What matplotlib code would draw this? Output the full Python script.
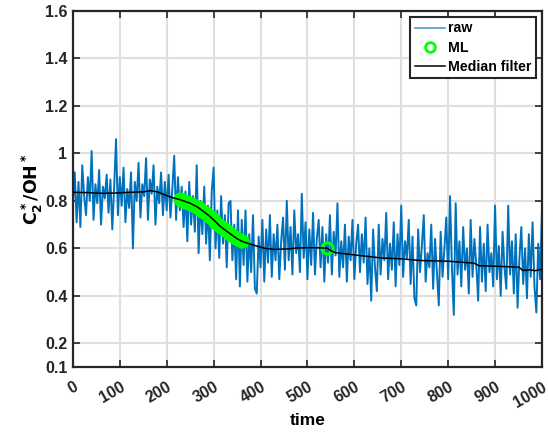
import numpy as np
import matplotlib.pyplot as plt
from matplotlib.lines import Line2D

plt.rcParams.update({
    'font.family': 'Liberation Sans',
    'font.weight': 'bold',
    'font.size': 11.5,
    'axes.labelweight': 'bold',
})

# raw signal, sampled every 4 time units (0..1000)
raw_t = np.arange(0, 1001, 4)
raw_v = [
    0.78, 0.92, 0.71, 0.88, 0.69, 0.95, 0.82, 0.74, 0.90, 0.80,
    1.01, 0.72, 0.87, 0.79, 0.93, 0.70, 0.86, 0.81, 0.91, 0.75,
    0.89, 0.68, 0.86, 1.06, 0.74, 0.90, 0.78, 0.94, 0.71, 0.85,
    0.77, 0.92, 0.60, 0.88, 0.80, 0.96, 0.73, 0.87, 0.82, 0.98,
    0.72, 0.89, 0.83, 0.95, 0.70, 0.86, 0.79, 0.92, 0.74, 0.88,
    0.76, 0.91, 0.73, 0.85, 0.99, 0.72, 0.90, 0.76, 0.86, 0.69,
    0.84, 0.63, 0.88, 0.70, 0.82, 0.67, 0.95, 0.58, 0.80, 0.66,
    0.86, 0.62, 0.78, 0.55, 0.84, 0.94, 0.60, 0.76, 0.56, 0.82,
    0.62, 0.74, 0.52, 0.79, 0.80, 0.55, 0.70, 0.47, 0.76, 0.44,
    0.72, 0.53, 0.76, 0.46, 0.66, 0.50, 0.74, 0.43, 0.41, 0.65,
    0.52, 0.72, 0.46, 0.68, 0.54, 0.74, 0.48, 0.66, 0.55, 0.70,
    0.47, 0.63, 0.73, 0.51, 0.80, 0.55, 0.69, 0.49, 0.76, 0.58,
    0.66, 0.50, 0.83, 0.56, 0.71, 0.47, 0.68, 0.53, 0.75, 0.49,
    0.64, 0.72, 0.52, 0.69, 0.46, 0.66, 0.54, 0.74, 0.49, 0.67,
    0.57, 0.79, 0.48, 0.63, 0.52, 0.70, 0.46, 0.65, 0.55, 0.72,
    0.47, 0.62, 0.70, 0.50, 0.66, 0.54, 0.73, 0.45, 0.60, 0.38,
    0.68, 0.52, 0.42, 0.70, 0.49, 0.64, 0.55, 0.75, 0.47, 0.62,
    0.51, 0.71, 0.44, 0.66, 0.53, 0.78, 0.48, 0.63, 0.56, 0.72,
    0.45, 0.65, 0.39, 0.36, 0.68, 0.50, 0.61, 0.74, 0.46, 0.58,
    0.52, 0.70, 0.43, 0.64, 0.50, 0.36, 0.67, 0.48, 0.60, 0.73,
    0.47, 0.82, 0.52, 0.32, 0.79, 0.49, 0.63, 0.44, 0.69, 0.51,
    0.60, 0.41, 0.72, 0.48, 0.64, 0.53, 0.38, 0.69, 0.46, 0.62,
    0.42, 0.70, 0.50, 0.58, 0.44, 0.78, 0.47, 0.61, 0.40, 0.67,
    0.52, 0.43, 0.78, 0.49, 0.63, 0.41, 0.66, 0.35, 0.56, 0.69,
    0.45, 0.60, 0.39, 0.66, 0.48, 0.71, 0.44, 0.33, 0.62, 0.47,
    0.76,
]

# median filter output (knots)
med_t = [0, 30, 60, 90, 120, 150, 165, 180, 200, 215, 229, 250, 265, 278,
         290, 300, 314, 328, 340, 350, 360, 375, 395, 410, 430, 460, 480,
         510, 542, 550, 560, 598, 630, 656, 700, 741, 800, 855, 866, 900,
         951, 959, 975, 985, 1000]
med_v = [0.836, 0.835, 0.832, 0.833, 0.836, 0.838, 0.843, 0.838, 0.822,
         0.812, 0.805, 0.790, 0.775, 0.756, 0.738, 0.720, 0.693, 0.672,
         0.655, 0.641, 0.630, 0.620, 0.608, 0.600, 0.596, 0.598, 0.602,
         0.603, 0.601, 0.590, 0.582, 0.573, 0.566, 0.560, 0.556, 0.549,
         0.546, 0.538, 0.527, 0.525, 0.521, 0.507, 0.510, 0.506, 0.512]

# ML detections
ml_t = [228, 232, 236, 240, 244, 248, 252, 256, 260, 264, 268, 272, 276,
        280, 284, 288, 292, 296, 300, 304, 308, 312, 316, 320, 324, 328,
        332, 336, 340, 344, 348, 352, 356, 360, 542]
ml_v = [0.806, 0.803, 0.800, 0.797, 0.794, 0.791, 0.788, 0.784, 0.780,
        0.776, 0.771, 0.765, 0.759, 0.753, 0.747, 0.741, 0.734, 0.727,
        0.720, 0.712, 0.704, 0.697, 0.690, 0.684, 0.678, 0.672, 0.666,
        0.660, 0.655, 0.649, 0.644, 0.639, 0.634, 0.630, 0.603]

fig = plt.figure(figsize=(5.48, 4.34), dpi=100)
ax = fig.add_axes([0.133, 0.154, 0.856, 0.821])

ax.plot(raw_t, raw_v, color='#0072BD', lw=1.4, zorder=2)
ax.plot(ml_t, ml_v, 'o', ls='none', ms=8, mfc='none', mec='#00FF00', mew=2.2, zorder=3)
ax.plot(med_t, med_v, color='black', lw=1.1, zorder=4)

ax.set_xlim(0, 1000)
ax.set_ylim(0.1, 1.6)
ax.set_xticks(np.arange(0, 1001, 100))
ax.set_yticks([0.1, 0.2, 0.4, 0.6, 0.8, 1.0, 1.2, 1.4, 1.6])
ax.set_yticklabels(['0.1', '0.2', '0.4', '0.6', '0.8', '1', '1.2', '1.4', '1.6'])
for lab in ax.get_xticklabels():
    lab.set_rotation(30)
    lab.set_ha('right')
    lab.set_va('top')
    lab.set_rotation_mode('anchor')

ax.grid(True, color='#dfdfdf', lw=1.5)
ax.set_axisbelow(True)
ax.tick_params(direction='in', length=5, width=1.2, top=True, right=True,
               labelsize=11.5, colors='#262626')
ax.tick_params(axis='x', pad=9)
ax.tick_params(axis='y', pad=4)
for s in ax.spines.values():
    s.set_linewidth(1.6)
    s.set_color('#262626')

ax.set_xlabel('time', fontsize=12.5, labelpad=2)
ax.set_ylabel(r'$\mathbf{C_2^*/OH^*}$', fontsize=12.5, labelpad=0)

handles = [
    Line2D([0], [0], color='#4a9bd6', lw=1.2),
    Line2D([0], [0], marker='o', ls='none', ms=7, mfc='none', mec='#00FF00', mew=2.0),
    Line2D([0], [0], color='black', lw=1.1),
]
leg = ax.legend(handles, ['raw', 'ML', 'Median filter'], loc='upper right',
                fancybox=False, framealpha=1, edgecolor='#262626',
                handlelength=2.15, handletextpad=0.2, borderpad=0.3,
                labelspacing=0.37, borderaxespad=0.45,
                prop={'weight': 'bold', 'size': 10.2})
leg.get_frame().set_linewidth(1.5)

fig.savefig('out.png', dpi=100)
